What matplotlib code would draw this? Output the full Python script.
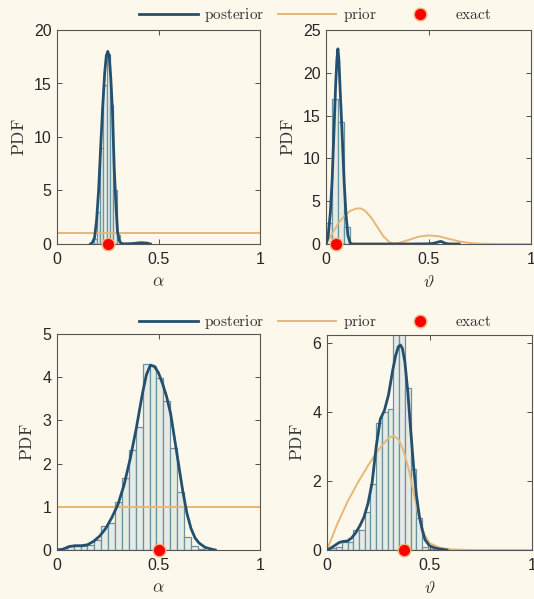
import numpy as np
import matplotlib
matplotlib.use("Agg")
import matplotlib.pyplot as plt

plt.rcParams["font.family"] = ["Liberation Sans", "DejaVu Sans"]
plt.rcParams["mathtext.fontset"] = "cm"

# ---- case 1 (top row) ----
a1_edges = [0.180, 0.196, 0.213, 0.229, 0.246, 0.262, 0.278, 0.295, 0.311]
a1_hist = [0.5, 3.0, 9.0, 14.9, 17.8, 13.0, 5.0, 0.8]
a1_x = [0.165, 0.175, 0.185, 0.195, 0.205, 0.215, 0.225, 0.235, 0.243, 0.250, 0.257,
        0.265, 0.273, 0.282, 0.290, 0.298, 0.306, 0.315, 0.325, 0.34, 0.36, 0.38,
        0.40, 0.415, 0.43, 0.445, 0.46]
a1_pdf = [0, 0.15, 0.6, 2.2, 5.0, 9.0, 12.8, 16.0, 17.6, 18.0, 17.6,
          15.5, 12.5, 7.0, 3.8, 1.2, 0.35, 0.08, 0.02, 0.02, 0.03, 0.05,
          0.1, 0.12, 0.1, 0.08, 0.0]
a1_prior_x = [0, 1]
a1_prior = [1, 1]
a1_exact = 0.25

t1_edges = [0.0, 0.029, 0.058, 0.087, 0.116]
t1_hist = [2.5, 16.9, 14.3, 2.0]
t1_x = [0, 0.01, 0.021, 0.03, 0.039, 0.047, 0.053, 0.058, 0.063, 0.069, 0.078, 0.088,
        0.097, 0.107, 0.118, 0.13, 0.2, 0.3, 0.4, 0.5, 0.525, 0.545, 0.56, 0.57,
        0.58, 0.6, 0.65]
t1_pdf = [0, 0.8, 3.6, 7.5, 13.3, 18.5, 21.5, 22.8, 21.5, 18.0, 13.3, 7.5,
          3.6, 1.0, 0.1, 0, 0, 0, 0, 0.02, 0.08, 0.22, 0.3, 0.22,
          0.08, 0.01, 0]
t1_prior_x = [0, 0.03, 0.06, 0.09, 0.12, 0.15, 0.17, 0.19, 0.22, 0.25, 0.28, 0.31,
              0.33, 0.36, 0.40, 0.45, 0.50, 0.55, 0.60, 0.65, 0.70, 0.75, 0.80,
              0.85, 1.0]
t1_prior = [0, 1.2, 2.4, 3.3, 3.9, 4.15, 4.15, 3.9, 3.1, 2.0, 0.9, 0.2,
            0.05, 0.15, 0.45, 0.85, 1.0, 0.9, 0.6, 0.3, 0.12, 0.04, 0.01,
            0, 0]
t1_exact = 0.05

# ---- case 2 (bottom row) ----
a2_edges = [0.048, 0.082, 0.116, 0.150, 0.184, 0.218, 0.252, 0.286, 0.320, 0.354,
            0.388, 0.422, 0.456, 0.490, 0.524, 0.558, 0.592, 0.626, 0.660, 0.694,
            0.728]
a2_hist = [0.1, 0.1, 0.1, 0.12, 0.23, 0.56, 0.62, 1.12, 1.67, 2.31,
           2.85, 4.31, 4.25, 3.98, 3.46, 2.37, 1.35, 0.31, 0.1, 0.03]
a2_x = [0, 0.03, 0.06, 0.09, 0.12, 0.15, 0.18, 0.21, 0.24, 0.27, 0.30, 0.33, 0.36,
        0.39, 0.42, 0.44, 0.46, 0.48, 0.50, 0.52, 0.54, 0.56, 0.58, 0.60, 0.62,
        0.64, 0.66, 0.68, 0.70, 0.73, 0.76, 0.78]
a2_pdf = [0, 0.02, 0.08, 0.1, 0.1, 0.12, 0.2, 0.32, 0.5, 0.75, 1.05, 1.5, 2.1,
          2.8, 3.6, 4.05, 4.28, 4.25, 4.1, 3.85, 3.55, 3.15, 2.55, 1.95, 1.35,
          0.85, 0.5, 0.28, 0.16, 0.06, 0.02, 0]
a2_prior_x = [0, 1]
a2_prior = [1, 1]
a2_exact = 0.5

t2_edges = [0.016, 0.044, 0.072, 0.100, 0.128, 0.156, 0.184, 0.212, 0.240, 0.268,
            0.296, 0.324, 0.352, 0.380, 0.408, 0.436, 0.464, 0.492, 0.520]
t2_hist = [0.05, 0.1, 0.22, 0.24, 0.58, 0.58, 1.11, 1.93, 3.69, 4.0,
           4.1, 6.4, 6.3, 4.7, 2.34, 0.92, 0.1, 0.03]
t2_x = [0, 0.02, 0.04, 0.06, 0.08, 0.10, 0.12, 0.14, 0.16, 0.18, 0.20, 0.22, 0.24,
        0.26, 0.28, 0.30, 0.32, 0.335, 0.348, 0.358, 0.368, 0.38, 0.394, 0.408,
        0.422, 0.436, 0.45, 0.464, 0.478, 0.50, 0.53, 0.56, 0.585]
t2_pdf = [0, 0.06, 0.14, 0.22, 0.25, 0.26, 0.35, 0.5, 0.7, 0.95, 1.35, 1.95, 3.0,
          3.8, 4.05, 4.5, 5.2, 5.65, 5.9, 5.95, 5.85, 5.45, 4.6, 3.5,
          2.45, 1.6, 1.0, 0.6, 0.3, 0.12, 0.05, 0.02, 0]
t2_prior_x = [0, 0.05, 0.1, 0.15, 0.2, 0.25, 0.3, 0.325, 0.35, 0.375, 0.4, 0.425,
              0.45, 0.475, 0.5, 0.55, 0.6, 0.7, 1.0]
t2_prior = [0, 0.75, 1.4, 1.95, 2.45, 2.9, 3.25, 3.32, 3.2, 2.85, 2.3, 1.6,
            0.9, 0.45, 0.2, 0.07, 0.02, 0, 0]
t2_exact = 0.375

bg = "#FDF8EC"
c_post = "#24506E"
c_prior = "#E5B877"
c_bar_edge = "#6A93A2"
c_bar_face = "#E6EBE4"

fig = plt.figure(figsize=(5.34, 5.99), dpi=100, facecolor=bg)

W, H = 534, 599
def box(x0, x1, ytop, ybot):
    return [x0 / W, 1 - ybot / H, (x1 - x0) / W, (ybot - ytop) / H]

panels = [
    (box(57, 260, 30, 244), a1_edges, a1_hist, a1_x, a1_pdf, a1_prior_x, a1_prior, a1_exact,
     r"$\alpha$", 20, [0, 5, 10, 15, 20]),
    (box(326, 531, 30, 244), t1_edges, t1_hist, t1_x, t1_pdf, t1_prior_x, t1_prior, t1_exact,
     r"$\vartheta$", 25, [0, 5, 10, 15, 20, 25]),
    (box(57, 260, 334, 550), a2_edges, a2_hist, a2_x, a2_pdf, a2_prior_x, a2_prior, a2_exact,
     r"$\alpha$", 5, [0, 1, 2, 3, 4, 5]),
    (box(327, 532, 335, 550), t2_edges, t2_hist, t2_x, t2_pdf, t2_prior_x, t2_prior, t2_exact,
     r"$\vartheta$", 6.24, [0, 2, 4, 6]),
]

handles = None
for rect, edges, hist, x, pdf, px, prior, exact, xlab, ytop, yt in panels:
    ax = fig.add_axes(rect)
    ax.set_facecolor(bg)
    ax.bar(edges[:-1], hist, width=np.diff(edges), align="edge",
           facecolor=c_bar_face, edgecolor=c_bar_edge, linewidth=0.9, zorder=1)
    lp, = ax.plot(px, prior, color=c_prior, lw=1.4, zorder=2)
    lk, = ax.plot(x, pdf, color=c_post, lw=2.0, zorder=3)
    le, = ax.plot([exact], [0], "o", ms=9, mfc="#FF0000", mec="#F2B27A", mew=1.0,
                  clip_on=False, zorder=5, linestyle="none")
    handles = [lk, lp, le]
    ax.set_xlim(0, 1)
    ax.set_ylim(0, ytop)
    ax.set_xticks([0, 0.5, 1])
    ax.set_xticklabels(["0", "0.5", "1"])
    ax.set_yticks(yt)
    ax.tick_params(direction="in", length=3.5, width=0.7, labelsize=11.5,
                   colors="#4d4d4d", labelcolor="#262626", top=True, right=True)
    ax.tick_params(axis="x", pad=6)
    ax.tick_params(axis="y", pad=4)
    for s in ax.spines.values():
        s.set_color("#555555")
        s.set_linewidth(0.8)
    ax.set_xlabel(xlab, fontsize=12.5, color="#333333", labelpad=5)
    ax.set_ylabel(r"$\mathrm{PDF}$", fontsize=12.5, color="#333333", labelpad=5)

labels = [r"$\mathrm{posterior}$", r"$\mathrm{prior}$", r"$\mathrm{exact}$"]
for yc in (1 - 15 / H, 1 - 322 / H):
    fig.legend(handles, labels, loc="center", bbox_to_anchor=(0.59, yc), ncol=3,
               frameon=False, fontsize=11, handlelength=3.85, handletextpad=0.4,
               columnspacing=0.9, labelcolor="#333333")

fig.savefig("out.png", dpi=100, facecolor=bg)
